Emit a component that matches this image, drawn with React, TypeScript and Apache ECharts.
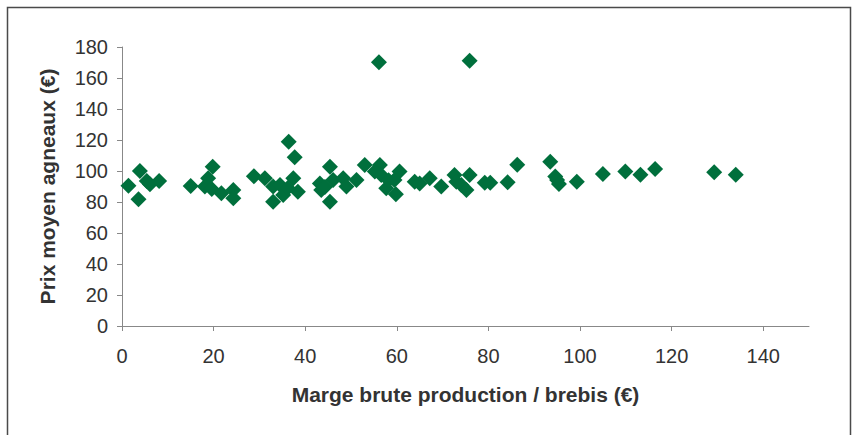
import React, { useEffect, useRef } from "react";
import * as echarts from "echarts";

const margeBrute: number[] = [
  1.4, 3.9, 3.6, 5.4, 6.1, 8.1, 15, 18.1, 18.8, 19.8, 19.6, 21.7, 24.3, 24.3,
  28.8, 31.2, 33, 33, 34.5, 35.2, 36.4, 37.7, 37.4, 38.4, 36.2, 43.2, 43.5,
  44.3, 45.4, 45.4, 46.1, 48.3, 49, 51.2, 53, 56.1, 56.3, 55.2, 56.6, 57.7,
  58.2, 59.8, 60.6, 59.5, 63.9, 65, 67.2, 69.7, 72.6, 73, 74.1, 75.2, 75.9,
  75.9, 79.2, 80.4, 84.2, 86.3, 93.5, 94.6, 95, 95.4, 99.3, 105, 109.9, 113.2,
  116.4, 129.3, 134,
];
const prixMoyen: number[] = [
  90.5, 100, 81.7, 93.5, 91.4, 93.5, 90.3, 90, 95.3, 102.8, 88.4, 85.6, 87.7,
  82.4, 96.6, 95.3, 90, 80.2, 91, 84.5, 118.9, 108.8, 95.3, 86.6, 89, 92,
  87.7, 89.7, 102.8, 80.2, 94.2, 95.3, 90, 94.2, 103.9, 170.1, 103.9, 99.6,
  97.4, 88.8, 94, 85, 99.6, 94.2, 93, 92, 95.3, 90, 97.4, 93, 91, 87.7, 97.4,
  171.2, 92.5, 92.5, 92.7, 104, 106, 96.4, 94.2, 91.6, 93, 98, 99.6, 97.6,
  101.3, 99.2, 97.6,
];
const xTicks: number[] = [0, 20, 40, 60, 80, 100, 120, 140];
const yTicks: number[] = [0, 20, 40, 60, 80, 100, 120, 140, 160, 180];

export default function App() {
  const ref = useRef<HTMLDivElement>(null);
  useEffect(() => {
    document.body.style.margin = "0";
    if (!ref.current) return;
    const chart = echarts.init(ref.current, undefined, { renderer: "svg" });
    const font = "'Liberation Sans', Arial, Helvetica, sans-serif";
    chart.setOption({
      animation: false,
      backgroundColor: "#ffffff",
      textStyle: { fontFamily: font },
      graphic: [
        {
          type: "rect",
          shape: { x: 7.5, y: 7.5, width: 843, height: 460 },
          style: { fill: "none", stroke: "#4a4a4a", lineWidth: 1.5 },
          silent: true,
        },
      ],
      grid: { left: 122, right: 44, top: 47, bottom: 109 },
      xAxis: {
        type: "value",
        min: 0,
        max: 150,
        interval: 20,
        name: "Marge brute production / brebis (€)",
        nameLocation: "middle",
        nameGap: 58,
        nameTextStyle: {
          fontSize: 21,
          fontWeight: "bold",
          color: "#333333",
          fontFamily: font,
        },
        axisLine: { show: true, lineStyle: { color: "#888888", width: 1 } },
        axisTick: {
          show: true,
          length: 5,
          customValues: xTicks,
          lineStyle: { color: "#888888" },
        },
        axisLabel: {
          customValues: xTicks,
          fontSize: 20,
          color: "#333333",
          margin: 20,
          fontFamily: font,
        },
        splitLine: { show: false },
      },
      yAxis: {
        type: "value",
        min: 0,
        max: 180,
        interval: 20,
        name: "Prix moyen agneaux (€)",
        nameLocation: "middle",
        nameGap: 64,
        nameTextStyle: {
          fontSize: 21,
          fontWeight: "bold",
          color: "#333333",
          fontFamily: font,
        },
        axisLine: { show: true, lineStyle: { color: "#888888", width: 1 } },
        axisTick: {
          show: true,
          length: 5,
          customValues: yTicks,
          lineStyle: { color: "#888888" },
        },
        axisLabel: {
          customValues: yTicks,
          fontSize: 20,
          color: "#333333",
          margin: 14,
          fontFamily: font,
        },
        splitLine: { show: false },
      },
      series: [
        {
          type: "scatter",
          symbol: "diamond",
          symbolSize: 16,
          itemStyle: { color: "#006f3c", opacity: 1 },
          data: margeBrute.map((x, i) => [x, prixMoyen[i]]),
        },
      ],
    });
    return () => chart.dispose();
  }, []);
  return <div ref={ref} style={{ width: 853, height: 435 }} />;
}
